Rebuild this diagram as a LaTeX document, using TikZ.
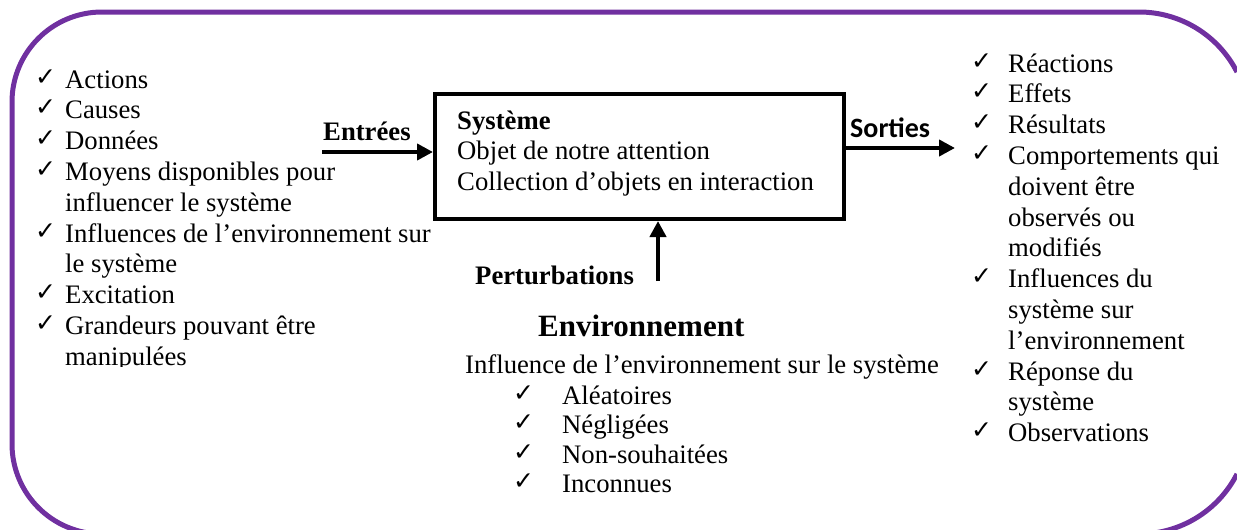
\documentclass[tikz,border=0pt]{standalone}
\usepackage{fontspec}
\setmainfont{Liberation Serif}
\newfontfamily\calibfont{Carlito}
\newfontfamily\symfont{DejaVu Sans}
\usetikzlibrary{arrows.meta}
\definecolor{bordpurple}{HTML}{7030A0}
\begin{document}
\begin{tikzpicture}[x=1pt,y=-1pt,
  txt/.style={anchor=base west, inner sep=0pt, font=\fontsize{26.7}{30.8}\selectfont},
  btxt/.style={anchor=base west, inner sep=0pt, font=\fontsize{26.7}{30.8}\selectfont\bfseries},
  chk/.style={anchor=base west, inner sep=0pt, font=\symfont\fontsize{25}{25}\selectfont},
  flow/.style={line width=4.5pt, -{Triangle[length=16pt,width=16pt]}},
  bord/.style={draw=bordpurple, line width=5pt}
]
\useasboundingbox (0,0) rectangle (1237,530);
% purple frame (its right side lies outside the picture)
\begin{scope}
\clip (0,0) rectangle (1237,530);
\draw[bord] (1139,122) ++(333:110) arc[start angle=333,end angle=270,radius=110]
  -- (102,12) arc[start angle=270,end angle=180,radius=90]
  -- (12,444) arc[start angle=180,end angle=90,radius=90]
  -- (1139,534) arc[start angle=90,end angle=27,radius=110];
\end{scope}

% left list
\begin{scope}
\clip (0,0) rectangle (460,366.5);
\foreach \k/\t in {0/Actions,1/Causes,2/Données,3/Moyens disponibles pour,5/Influences de l’environnement sur,7/Excitation,8/Grandeurs pouvant être}{
  \node[chk] (lc\k) at (35,88+30.8*\k-3) {✓};
  \node[txt] (lt\k) at (65,88+30.8*\k) {\t};
}
\foreach \k/\t in {4/influencer le système,6/le système,9/manipulées}{
  \node[txt] (lt\k) at (65,88+30.8*\k) {\t};
}
\end{scope}

% right list
\foreach \k/\t in {0/Réactions,1/Effets,2/Résultats,3/Comportements qui,7/Influences du,10/Réponse du,12/Observations}{
  \node[chk] (rc\k) at (971,72+30.8*\k-3) {✓};
  \node[txt] (rt\k) at (1008,72+30.8*\k) {\t};
}
\foreach \k/\t in {4/doivent être,5/observés ou,6/modifiés,8/système sur,9/l’environnement,11/système}{
  \node[txt] (rt\k) at (1008,72+30.8*\k) {\t};
}

% system box
\node[draw, line width=4pt, anchor=north west, minimum width=409pt, minimum height=125pt, inner sep=0pt] (sys) at (433,92) {};
\node[btxt] (systitle) at (457,129) {Système};
\node[txt] (sys1) at (457,159) {Objet de notre attention};
\node[txt] (sys2) at (457,190) {Collection d’objets en interaction};

% inputs / outputs
\node[btxt] (entrees) at (323,140) {Entrées};
\coordinate (inStart) at (322,152);
\draw[flow] (inStart) -- (inStart -| sys.west);

\node[anchor=base west, inner sep=0pt, font=\calibfont\bfseries\fontsize{28}{30}\selectfont] (sorties) at (850,137) {Sorties};
\coordinate (outEnd) at (955,148);
\draw[flow] (outEnd -| sys.east) -- (outEnd);

\node[btxt] (perturb) at (475,284) {Perturbations};
\coordinate (pStart) at (658,281);
\draw[flow] (pStart) -- (pStart |- sys.south);

% environment
\node[anchor=base west, inner sep=0pt, font=\fontsize{31}{34}\selectfont\bfseries] (env) at (538,336) {Environnement};
\node[txt] (envline) at (465,373) {Influence de l’environnement sur le système};
\foreach \k/\t in {0/Aléatoires,1/Négligées,2/Non-souhaitées,3/Inconnues}{
  \node[chk] (ec\k) at (513,404+29.6*\k-3) {✓};
  \node[txt] (et\k) at (562,404+29.6*\k) {\t};
}
\end{tikzpicture}
\end{document}
